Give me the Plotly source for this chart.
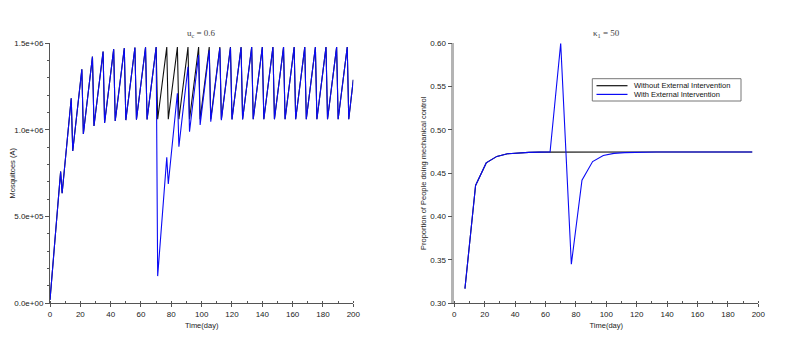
import plotly.graph_objects as go

# ---- left panel: adult mosquitoes, peaks/troughs of the weekly sawtooth ----
mosq_days = [0, 7, 8, 14, 15, 21, 22, 28, 29, 35, 36, 42, 43, 49, 50, 56, 57,
             63, 64, 70, 71, 77, 78, 84, 85, 91, 92, 98, 99, 105, 106, 112, 113,
             119, 120, 126, 127, 133, 134, 140, 141, 147, 148, 154, 155, 161, 162,
             168, 169, 175, 176, 182, 183, 189, 190, 196, 197, 200]

mosq_without = [20000, 760000, 635000, 1183000, 879000, 1350000, 977000,
                1423000, 1023000, 1452000, 1040000, 1466000, 1052000,
                1472000, 1057000, 1476000, 1060000, 1477000, 1061000,
                1478000, 1062000, 1478000, 1062000, 1478000, 1062000,
                1478000, 1062000, 1478000, 1062000, 1478000, 1062000,
                1478000, 1062000, 1478000, 1062000, 1478000, 1062000,
                1478000, 1062000, 1478000, 1062000, 1478000, 1062000,
                1478000, 1062000, 1478000, 1062000, 1478000, 1062000,
                1478000, 1062000, 1478000, 1062000, 1478000, 1062000,
                1478000, 1062000, 1290000]

mosq_with = [20000, 760000, 635000, 1183000, 879000, 1350000, 977000,
             1423000, 1023000, 1452000, 1040000, 1466000, 1052000,
             1472000, 1057000, 1476000, 1060000, 1477000, 1061000,
             1478000, 157000, 842000, 688000, 1212000, 904000,
             1365000, 990000, 1433000, 1029000, 1460000, 1048000,
             1472000, 1056000, 1476000, 1060000, 1477000, 1061000,
             1478000, 1062000, 1478000, 1062000, 1478000, 1062000,
             1478000, 1062000, 1478000, 1062000, 1478000, 1062000,
             1478000, 1062000, 1478000, 1062000, 1478000, 1062000,
             1478000, 1062000, 1290000]

mosq_ticks = [0, 500000, 1000000, 1500000]
mosq_ticktext = ["0.0e+00", "5.0e+05", "1.0e+06", "1.5e+06"]

# ---- right panel: proportion doing mechanical control (weekly) ----
prop_days = [7, 14, 21, 28, 35, 42, 49, 56, 63, 70, 77, 84, 91, 98, 105, 112,
             119, 126, 133, 140, 147, 154, 161, 168, 175, 182, 189, 196]

prop_without = [0.317, 0.436, 0.462, 0.4695, 0.4725, 0.4737, 0.4742, 0.4744,
                0.4745, 0.4745, 0.4745, 0.4745, 0.4745, 0.4745, 0.4745, 0.4745,
                0.4745, 0.4745, 0.4745, 0.4745, 0.4745, 0.4745, 0.4745, 0.4745,
                0.4745, 0.4745, 0.4745, 0.4745]

prop_with = [0.317, 0.436, 0.462, 0.4695, 0.4725, 0.4737, 0.4742, 0.4744,
             0.4745, 0.600, 0.345, 0.442, 0.4635, 0.4705, 0.473, 0.4739,
             0.4743, 0.4745, 0.4745, 0.4745, 0.4745, 0.4745, 0.4745, 0.4745,
             0.4745, 0.4745, 0.4745, 0.4745]

series_names = ["Without External Intervention", "With External Intervention"]
series_colors = ["#111111", "#0a0af5"]

# the page body adds an 8px margin, so the figure is a bit smaller and
# positions below are given in window pixels then converted
W, H, OFF = 801, 339, 8


def px_x(v):
    return (v - OFF) / W


def px_y(v):
    return 1 - (v - OFF) / H


fig = go.Figure()
fig.add_trace(go.Scatter(x=mosq_days, y=mosq_without, mode="lines",
                         line=dict(color=series_colors[0], width=1.1),
                         xaxis="x", yaxis="y", showlegend=False))
fig.add_trace(go.Scatter(x=mosq_days, y=mosq_with, mode="lines",
                         line=dict(color=series_colors[1], width=1.1),
                         xaxis="x", yaxis="y", showlegend=False))
fig.add_trace(go.Scatter(x=prop_days, y=prop_without, mode="lines",
                         line=dict(color=series_colors[0], width=1.1),
                         xaxis="x2", yaxis="y2", showlegend=False))
fig.add_trace(go.Scatter(x=prop_days, y=prop_with, mode="lines",
                         line=dict(color=series_colors[1], width=1.1),
                         xaxis="x2", yaxis="y2", showlegend=False))

tick_font = dict(family="Liberation Sans", size=8, color="#222")
title_font = dict(family="Liberation Sans", size=7.5, color="#222")

xcommon = dict(range=[0, 200], dtick=20, tick0=0, ticks="outside", ticklen=3,
               tickcolor="#555", showline=True, linecolor="#555", linewidth=1,
               showgrid=False, zeroline=False, tickfont=tick_font, automargin=False,
               title=dict(text="Time(day)", font=title_font, standoff=4),
               minor=dict(dtick=10, ticks="inside", ticklen=2, tickcolor="#555"))

ydom = [px_y(303.3), px_y(43.3)]

fig.update_layout(
    width=W, height=H,
    margin=dict(l=0, r=0, t=0, b=0),
    paper_bgcolor="white", plot_bgcolor="white",
    xaxis=dict(domain=[px_x(50), px_x(353.3)], anchor="y", **xcommon),
    yaxis=dict(domain=ydom, anchor="x", range=[0, 1500000],
               tickvals=mosq_ticks, ticktext=mosq_ticktext,
               ticks="outside", ticklen=4, tickcolor="#555",
               showline=True, linecolor="#555", linewidth=1,
               showgrid=False, zeroline=False, tickfont=tick_font, automargin=False,
               minor=dict(dtick=100000, ticks="outside", ticklen=2, tickcolor="#555"),
               title=dict(text="Mosquitoes (A)", font=title_font, standoff=11)),
    xaxis2=dict(domain=[px_x(454.3), px_x(758.3)], anchor="y2", **xcommon),
    yaxis2=dict(domain=ydom, anchor="x2", range=[0.30, 0.60],
                dtick=0.05, tick0=0.30, tickformat=".2f",
                ticks="outside", ticklen=4, tickcolor="#555",
                showline=True, linecolor="#b4b4b4", linewidth=2.5,
                showgrid=False, zeroline=False, tickfont=tick_font, automargin=False,
                title=dict(text="Proportion of People doing mechanical control",
                           font=title_font, standoff=3)),
)

# panel titles
for ref, label in [("x domain", "u<sub>c</sub> = 0.6"),
                   ("x2 domain", "κ<sub>1</sub> = 50")]:
    fig.add_annotation(text=label, xref=ref, yref="paper", x=0.5, y=px_y(33),
                       yanchor="middle", showarrow=False,
                       font=dict(family="Liberation Serif", size=9, color="#444"))

# legend box on the right panel
fig.add_shape(type="rect", xref="paper", yref="paper", x0=px_x(592.3), x1=px_x(741),
              y0=px_y(78.7), y1=px_y(101), line=dict(color="#777", width=1),
              fillcolor="white")
for i, (name, col) in enumerate(zip(series_names, series_colors)):
    yy = px_y(85.7 + 8.7 * i)
    fig.add_shape(type="line", xref="paper", yref="paper", x0=px_x(596.5),
                  x1=px_x(627.5), y0=yy, y1=yy, line=dict(color=col, width=1.2))
    fig.add_annotation(text=name, xref="paper", yref="paper", x=px_x(631.5), y=yy,
                       xanchor="left", yanchor="middle", showarrow=False,
                       font=dict(family="Liberation Sans", size=7.5, color="#111"))

fig.write_html("out.html")
